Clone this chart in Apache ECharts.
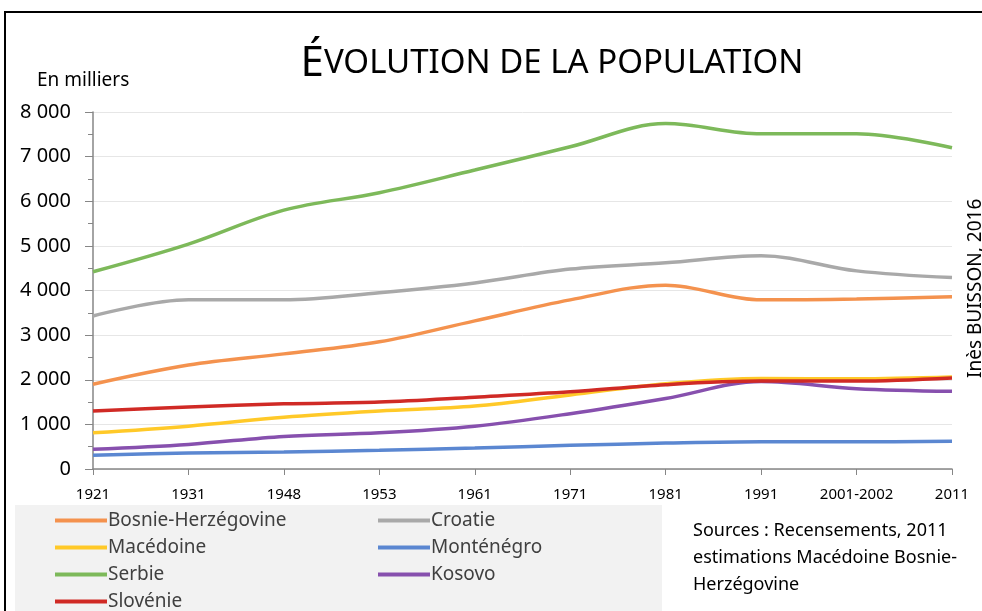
<!DOCTYPE html>
<html>
<head>
<meta charset="utf-8">
<script src="https://cdn.jsdelivr.net/npm/echarts@6/dist/echarts.min.js"></script>
<style>
  html, body { margin: 0; padding: 0; background: #fff; }
  #box { width: 982px; height: 611px; }
</style>
</head>
<body>
<div id="box"></div>
<script>
// données (en milliers)
const annees = ['1921', '1931', '1948', '1953', '1961', '1971', '1981', '1991', '2001-2002', '2011']
const bosnie = [1900, 2330, 2580, 2850, 3320, 3790, 4120, 3790, 3810, 3860]
const croatie = [3430, 3790, 3790, 3950, 4170, 4480, 4620, 4780, 4440, 4290]
const macedoine = [810, 960, 1160, 1300, 1410, 1660, 1910, 2030, 2020, 2060]
const montenegro = [310, 360, 380, 420, 470, 530, 580, 610, 610, 620]
const serbie = [4420, 5040, 5800, 6190, 6700, 7220, 7740, 7510, 7510, 7200]
const kosovo = [440, 550, 730, 810, 960, 1240, 1580, 1960, 1800, 1740]
const slovenie = [1300, 1390, 1460, 1500, 1610, 1730, 1890, 1970, 1970, 2040]

const font = '"Liberation Sans Narrow", "Noto Sans", sans-serif'

const myChart = echarts.init(document.getElementById('box'))

function serie(name, data, color) {
  return {
    name: name,
    type: 'line',
    data: data,
    smooth: 0.35,
    symbol: 'none',
    lineStyle: { width: 3.5, color: color },
    itemStyle: { color: color }
  }
}

// légende en deux colonnes (+ Slovénie seule en bas)
function legende(left, top, data) {
  return {
    left: left,
    top: top,
    data: data,
    orient: 'vertical',
    padding: 0,
    icon: 'rect',
    itemWidth: 52,
    itemHeight: 4,
    itemGap: 8,
    textStyle: { fontFamily: font, fontSize: 19, color: '#404040', padding: [0, 0, 0, -4] }
  }
}

const option = {
  animation: false,
  backgroundColor: '#fff',
  title: {
    text: '{a|É}{b|VOLUTION DE LA POPULATION}',
    left: 547,
    textAlign: 'center',
    top: 38,
    textStyle: {
      rich: {
        a: { fontFamily: font, fontSize: 42, color: '#000', fontWeight: 'normal' },
        b: { fontFamily: font, fontSize: 33, color: '#000', fontWeight: 'normal' }
      }
    }
  },
  legend: [
    legende(55, 511, ['Bosnie-Herzégovine', 'Macédoine', 'Serbie']),
    legende(55, 592, ['Slovénie']),
    legende(378, 511, ['Croatie', 'Monténégro', 'Kosovo'])
  ],
  grid: { left: 93, right: 30, top: 112, bottom: 142, containLabel: false },
  xAxis: {
    type: 'category',
    data: annees,
    boundaryGap: false,
    axisLine: { lineStyle: { color: '#868686', width: 1.5 } },
    axisTick: { show: true, length: 6, lineStyle: { color: '#868686' } },
    axisLabel: { fontFamily: font, fontSize: 15, color: '#000', margin: 18, interval: 0 }
  },
  yAxis: {
    type: 'value',
    min: 0,
    max: 8000,
    interval: 1000,
    name: 'En milliers',
    nameLocation: 'end',
    nameGap: 22,
    nameTextStyle: { fontFamily: font, fontSize: 19, color: '#000', align: 'left', padding: [0, 0, 0, -56] },
    axisLine: { show: true, lineStyle: { color: '#868686', width: 1.5 } },
    axisTick: { show: true, length: 8, lineStyle: { color: '#868686' } },
    minorTick: { show: true, splitNumber: 2, length: 5, lineStyle: { color: '#868686' } },
    splitLine: { lineStyle: { color: '#e6e6e6' } },
    axisLabel: {
      fontFamily: font, fontSize: 20, color: '#000', margin: 22,
      formatter: function (v) { return v >= 1000 ? (v / 1000) + ' 000' : String(v) }
    }
  },
  graphic: [
    { type: 'rect', z: -10, shape: { x: 15, y: 505, width: 647, height: 110 }, style: { fill: '#f2f2f2' } },
    { type: 'rect', z: 100, shape: { x: 5, y: 12, width: 1000, height: 620 }, style: { fill: 'none', stroke: '#000', lineWidth: 2 } },
    { type: 'text', left: 693, top: 517, style: { text: 'Sources : Recensements, 2011\nestimations Macédoine Bosnie-\nHerzégovine', fontFamily: font, fontSize: 18, lineHeight: 27, fill: '#000' } },
    { type: 'text', x: 966, y: 378, rotation: Math.PI / 2, style: { text: 'Inès BUISSON, 2016', fontFamily: font, fontSize: 19, fill: '#000', textVerticalAlign: 'top' } }
  ],
  series: [
    serie('Bosnie-Herzégovine', bosnie, '#F4924E'),
    serie('Croatie', croatie, '#A9A9A9'),
    serie('Macédoine', macedoine, '#FFC928'),
    serie('Monténégro', montenegro, '#5B87D1'),
    serie('Serbie', serbie, '#7DB95A'),
    serie('Kosovo', kosovo, '#8750AE'),
    serie('Slovénie', slovenie, '#D02A25')
  ]
}
myChart.setOption(option)
</script>
</body>
</html>
